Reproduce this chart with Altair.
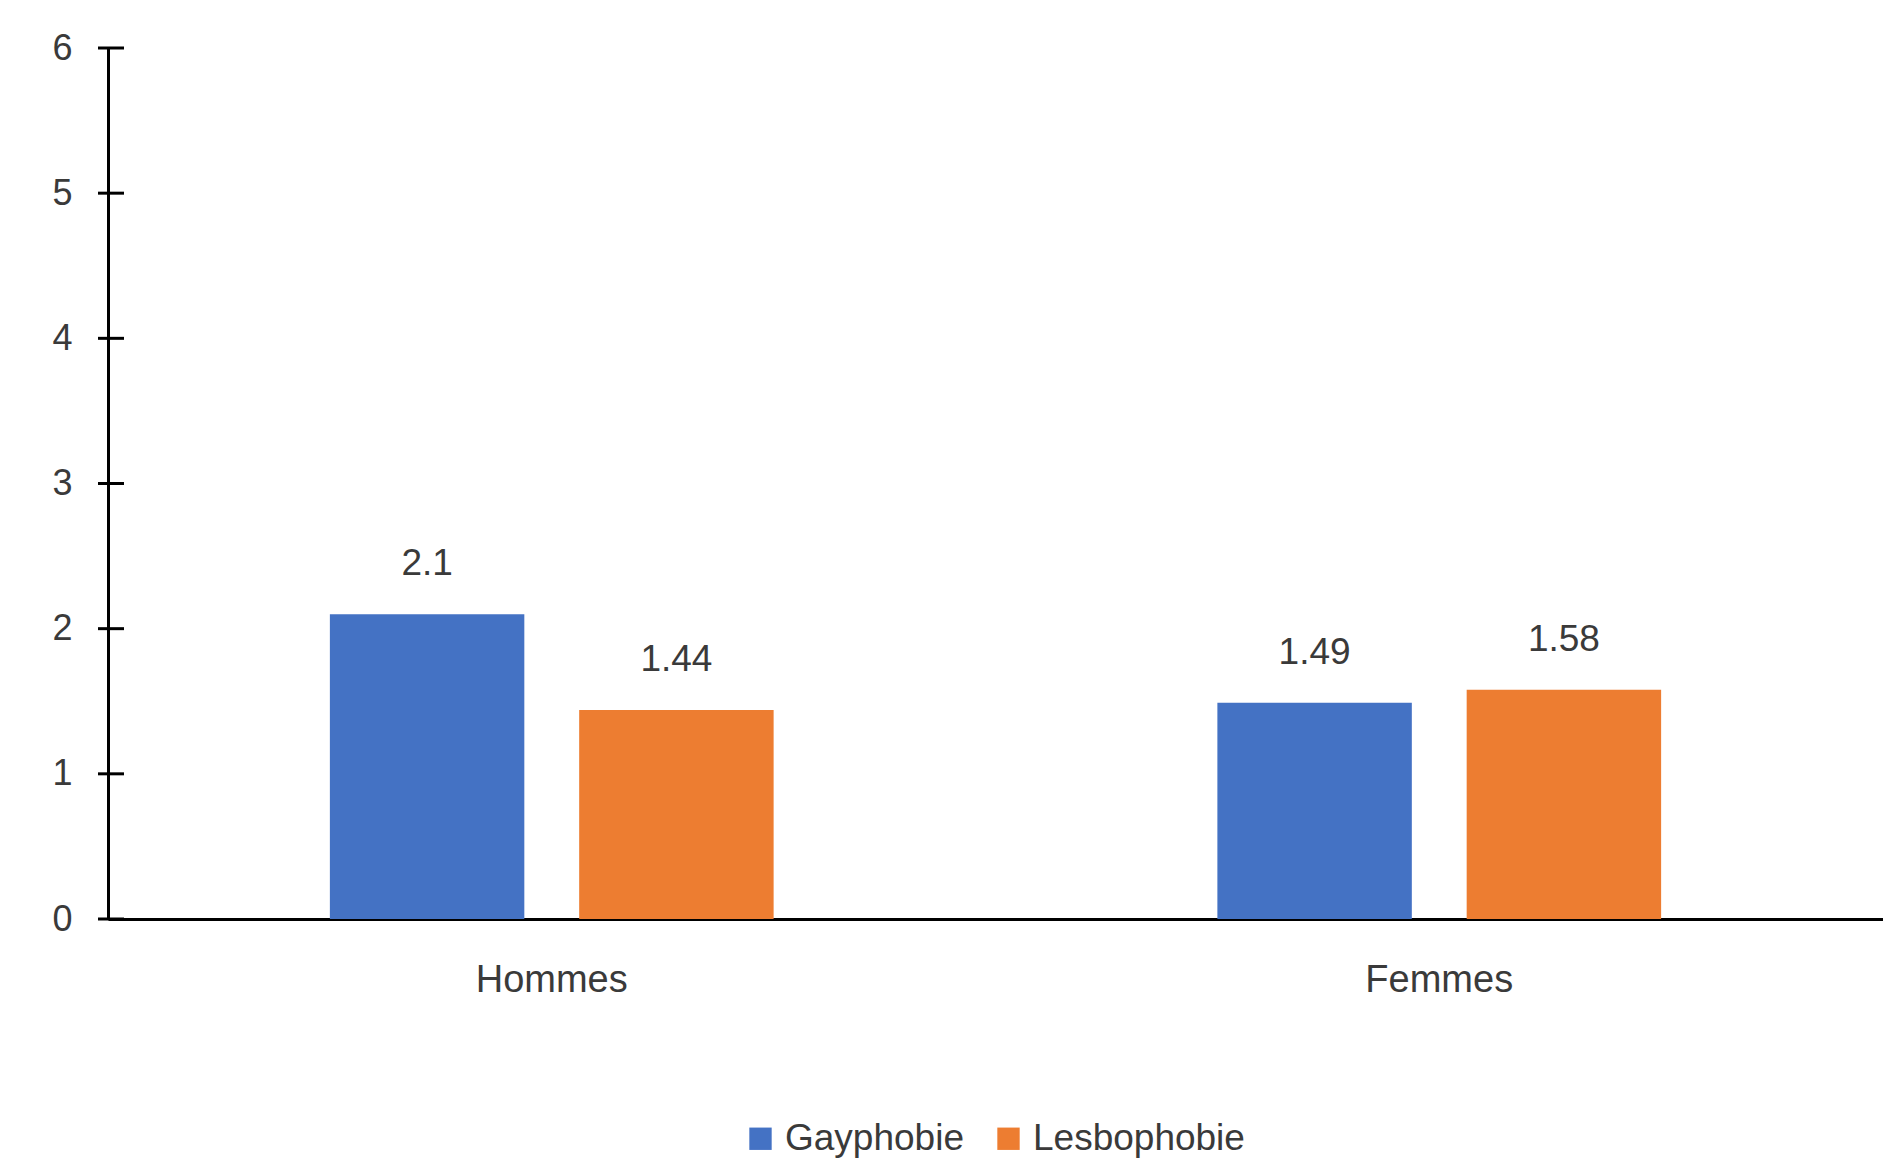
import altair as alt
import pandas as pd

categories = ["Hommes", "Femmes"]
series = ["Gayphobie", "Lesbophobie"]
gayphobie = [2.1, 1.49]
lesbophobie = [1.44, 1.58]
y_ticks = [0, 1, 2, 3, 4, 5, 6]
colors = ["#4472C4", "#ED7D31"]

rows = []
for i, c in enumerate(categories):
    rows.append({"cat": c, "series": series[0], "value": gayphobie[i], "label": f"{gayphobie[i]:g}"})
    rows.append({"cat": c, "series": series[1], "value": lesbophobie[i], "label": f"{lesbophobie[i]:g}"})
df = pd.DataFrame(rows)
ticks_df = pd.DataFrame({"t": y_ticks})

FONT = "Liberation Sans"
TXT = "#3a3a3a"

yscale = alt.Scale(domain=[0, 6], nice=False, zero=True)

base = alt.Chart(df).encode(
    x=alt.X("cat:N", sort=categories,
            scale=alt.Scale(paddingInner=0.5, paddingOuter=0.25),
            axis=alt.Axis(title=None, labelAngle=0, ticks=False, domainColor="black",
                          domainWidth=3, labelFontSize=38, labelFont=FONT,
                          labelColor=TXT, labelPadding=42, grid=False)),
    xOffset=alt.XOffset("series:N", sort=series,
                        scale=alt.Scale(paddingInner=0.22, paddingOuter=0)),
    y=alt.Y("value:Q", scale=yscale,
            axis=alt.Axis(title=None, values=y_ticks, format="d", ticks=False,
                          domainColor="black", domainWidth=3, labelFontSize=36,
                          labelFont=FONT, labelColor=TXT, labelPadding=36,
                          grid=False)),
)

bars = base.mark_bar().encode(
    color=alt.Color("series:N", sort=series,
                    scale=alt.Scale(domain=series, range=colors),
                    legend=alt.Legend(title=None, orient="none", direction="horizontal",
                                      legendX=634, legendY=1072,
                                      symbolType="square", symbolSize=500,
                                      symbolStrokeWidth=0, labelFontSize=37,
                                      labelFont=FONT, labelColor=TXT, labelLimit=0,
                                      labelOffset=6, columnPadding=26))
)

labels = base.mark_text(baseline="alphabetic", dy=-39, fontSize=37, font=FONT,
                        color=TXT).encode(text="label:N")

tick_rules = alt.Chart(ticks_df).mark_rule(color="black", strokeWidth=3).encode(
    y=alt.Y("t:Q", scale=yscale),
    x=alt.value(-10),
    x2=alt.value(16),
)

chart = alt.layer(bars, labels, tick_rules).properties(
    width=1775,
    height=871,
    autosize=alt.AutoSizeParams(type="none"),
    padding={"left": 100, "top": 40, "right": 0, "bottom": 240},
    background="white",
).configure_view(stroke=None)

chart.save("out.html", embed_options={"renderer": "svg", "actions": False})
